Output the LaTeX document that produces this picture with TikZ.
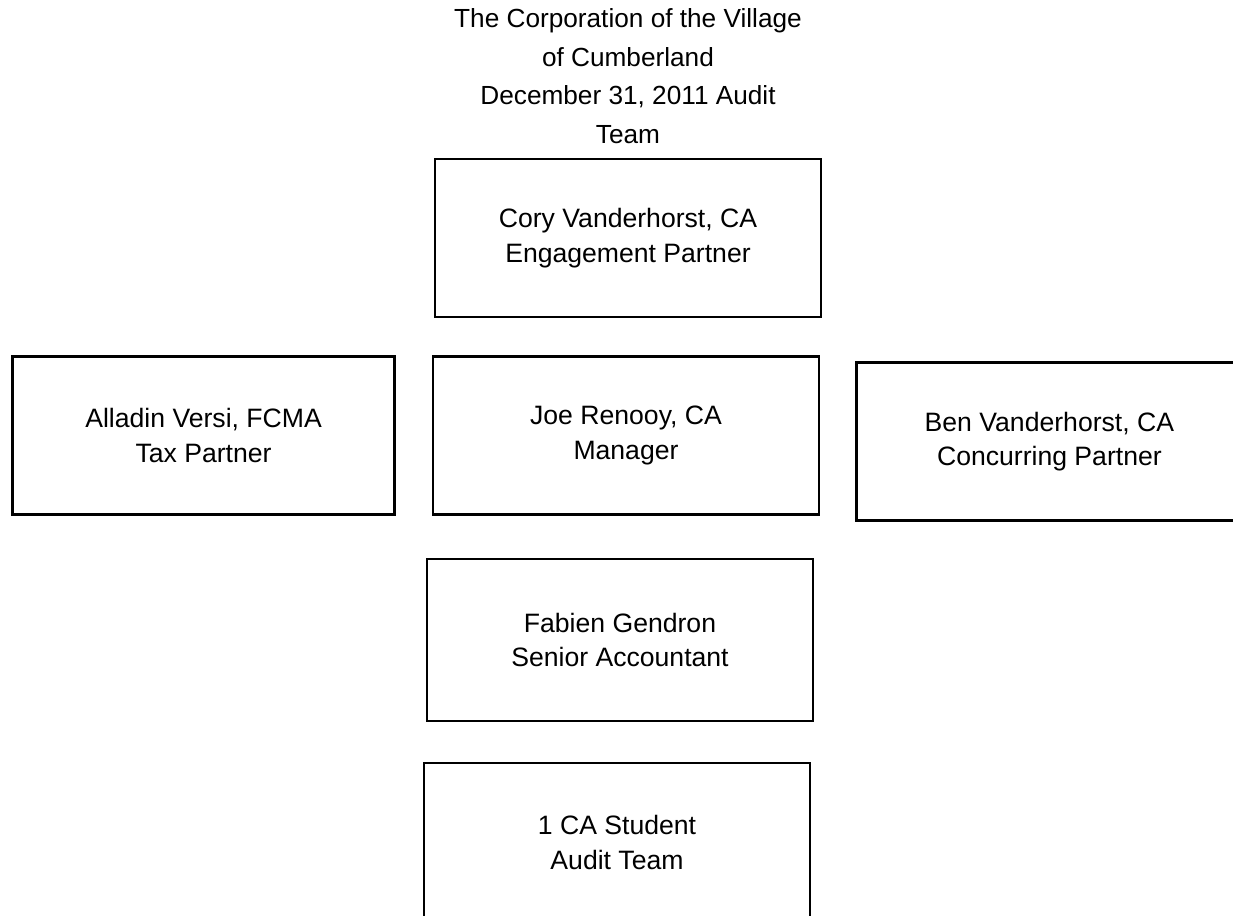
\documentclass[tikz,border=0pt]{standalone}
\usepackage{fontspec}
\setmainfont{Liberation Sans}
\usetikzlibrary{positioning}

\newcommand\teamfont{\fontsize{13.3}{17.3}\selectfont}
\newcommand\titlefont{\fontsize{13.1}{19.3}\selectfont}

\begin{document}
\begin{tikzpicture}[
    node distance=19.5pt,
    box/.style={draw, line width=1.2pt, align=center, minimum width=193pt, minimum height=79pt, font=\teamfont},
    heading/.style={align=center, inner sep=0pt, font=\titlefont}
]
\useasboundingbox (0pt,0pt) rectangle (616.5pt,458pt);
\node[box] (joe) at (313pt,240.25pt) {Joe Renooy, CA\\Manager};
\node[box, above=of joe, xshift=1pt, yshift=-1pt] (cory) {Cory Vanderhorst, CA\\Engagement Partner};
\node[box, left=18pt of joe, minimum width=191pt] (alladin) {Alladin Versi, FCMA\\Tax Partner};
\node[box, right=17.5pt of joe, yshift=-3pt] (ben) {Ben Vanderhorst, CA\\Concurring Partner};
\node[box, below=21pt of joe, xshift=-3pt, minimum height=81pt] (fabien) {Fabien Gendron\\Senior Accountant};
\node[box, below=20pt of fabien, xshift=-1.5pt] (student) {1 CA Student\\Audit Team};
% title sits over the partner box
\node[heading, above=7pt of cory] (title) {The Corporation of the Village\\of Cumberland\\December 31, 2011 Audit\\Team};
\end{tikzpicture}
\end{document}
